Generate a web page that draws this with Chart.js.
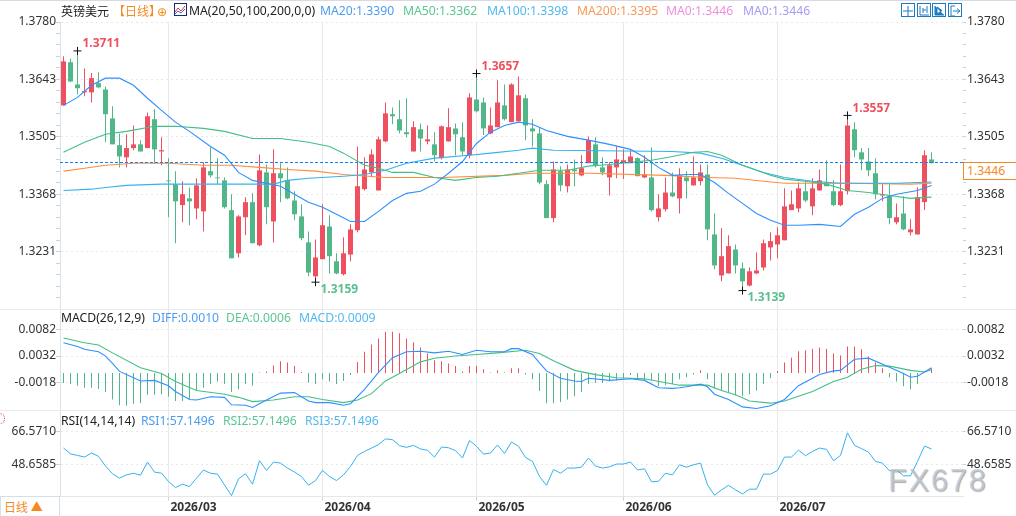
<!DOCTYPE html>
<html>
<head>
<meta charset="utf-8">
<title>英镑美元 日线</title>
<script src="https://cdn.jsdelivr.net/npm/chart.js@4.4.0/dist/chart.umd.js"></script>
<style>
    body { margin: 0; width: 1016px; height: 516px; overflow: hidden; background: #fff; font-family: "Noto Sans", sans-serif; font-size: 12.2px; position: relative; }
    #kline { position: absolute; left: 0; top: 0; }
    .t { position: absolute; white-space: nowrap; line-height: 16px; height: 16px; }
    .cjk { font-family: "Noto Sans CJK SC", sans-serif; font-size: 12px; }
    .sep { position: absolute; left: 0; width: 1016px; height: 1px; background: #e6ebef; }
    .btn { position: absolute; top: 3px; width: 12px; height: 12px; border: 1px solid #1b7cc2; }
    #lastBox { position: absolute; left: 963px; top: 162px; width: 53px; height: 16px; border: 1px solid #f68a1e; border-right: 0; box-sizing: content-box; background: #fff; color: #f68a1e; font-size: 12.2px; line-height: 16px; text-indent: 3px; }
    #period { position: absolute; left: 0; top: 496px; width: 58px; height: 19px; border: 1px solid #d5dfe8; color: #f68a1e; font-family: "Noto Sans CJK SC", sans-serif; font-size: 12px; line-height: 19px; text-indent: 3px; background: #fff; }
    #mark { position: absolute; left: 888px; top: 463px; font-family: "Liberation Sans", sans-serif; font-size: 31px; letter-spacing: 1.6px; line-height: 36px; color: rgba(190, 203, 218, 0.75); text-shadow: 1px 1px 1px rgba(120, 105, 95, 0.55); }
</style>
</head>
<body>
<canvas id="kline" width="1016" height="516"></canvas>

<div class="sep" style="top:0;background:#d8d9e2;"></div>
<div class="sep" style="top:309px;"></div>
<div class="sep" style="top:410px;"></div>

<div class="t cjk" style="left:61px;top:3px;color:#222;">英镑美元</div>
<div class="t cjk" style="left:113px;top:3px;color:#f68a1e;">【日线】</div>
<div class="t" style="left:157px;top:4px;color:#f68a1e;font-family:'DejaVu Sans';font-size:12px;">⊕</div>
<svg style="position:absolute;left:174px;top:3px;" width="13" height="13" viewBox="0 0 13 13">
    <rect x="0.5" y="0.5" width="12" height="12" fill="#fff" stroke="#1a2a7a"/>
    <path d="M1 9 L4 5 L7 8 L11 3" fill="none" stroke="#e33"/>
    <path d="M1 11 L4 8 L7 10 L11 6" fill="none" stroke="#36c"/>
</svg>
<div class="t" style="left:189px;top:3px;color:#222;">MA(20,50,100,200,0,0)</div>
<div class="t" style="left:320px;top:3px;color:#4d9bf0;">MA20:1.3390</div>
<div class="t" style="left:403px;top:3px;color:#5cc596;">MA50:1.3362</div>
<div class="t" style="left:487px;top:3px;color:#52b8f0;">MA100:1.3398</div>
<div class="t" style="left:577px;top:3px;color:#f79a5a;">MA200:1.3395</div>
<div class="t" style="left:666px;top:3px;color:#ee90dc;">MA0:1.3446</div>
<div class="t" style="left:743px;top:3px;color:#a59cf5;">MA0:1.3446</div>

<div class="btn" style="left:901px;"><svg width="12" height="12"><path d="M6 1V4M6 8V11M1 6H4M8 6H11M5 5H7V7H5Z" stroke="#1b7cc2" fill="none"/></svg></div>
<div class="btn" style="left:917px;"><svg width="12" height="12"><path d="M2 1V10H11M9 1V8M5 3V8M5 5L8 5" stroke="#1b7cc2" fill="none"/></svg></div>
<div class="btn" style="left:932px;"><svg width="12" height="12"><path d="M2 1V10H11M4 2L9 5.5L4 9Z" stroke="#1b7cc2" fill="#1b7cc2"/></svg></div>
<div class="btn" style="left:948px;"><svg width="12" height="12"><path d="M2 1V11M2 1H6M2 11H6M4 6H10M8 3.5L11 6L8 8.5" stroke="#1b7cc2" fill="none"/></svg></div>

<div class="t" style="left:61px;top:310px;color:#222;">MACD(26,12,9)</div>
<div class="t" style="left:152px;top:310px;color:#4d9bf0;">DIFF:0.0010</div>
<div class="t" style="left:226px;top:310px;color:#5cc596;">DEA:0.0006</div>
<div class="t" style="left:299px;top:310px;color:#52b8f0;">MACD:0.0009</div>

<div class="t" style="left:61px;top:413px;color:#222;">RSI(14,14,14)</div>
<div class="t" style="left:141px;top:413px;color:#4d9bf0;">RSI1:57.1496</div>
<div class="t" style="left:223px;top:413px;color:#5cc596;">RSI2:57.1496</div>
<div class="t" style="left:305px;top:413px;color:#52b8f0;">RSI3:57.1496</div>

<div style="position:absolute;left:-6px;top:413px;width:9px;height:9px;border:1px dotted #d33;border-radius:50%;"></div>

<div id="lastBox">1.3446</div>
<div id="period">日线 ▲</div>
<div id="mark">FX678</div>

<script>
// K线数据 (i = 0..124)
const opens = [1.3581,1.3684,1.3631,1.3612,1.3612,1.3634,1.3619,1.3550,1.3486,1.3457,
    1.3479,1.3488,1.3479,1.3548,1.3471,1.3402,1.3393,1.3343,1.3359,1.3335,
    1.3328,1.3424,1.3409,1.3402,1.3331,1.3228,1.3314,1.3350,1.3247,1.3421,
    1.3304,1.3419,1.3402,1.3354,1.3316,1.3254,1.3173,1.3214,1.3292,1.3209,
    1.3178,1.3225,1.3283,1.3381,1.3421,1.3378,1.3495,1.3560,1.3548,1.3517,
    1.3471,1.3524,1.3495,1.3488,1.3455,1.3495,1.3526,1.3505,1.3462,1.3595,
    1.3588,1.3514,1.3529,1.3581,1.3541,1.3543,1.3598,1.3526,1.3514,1.3393,
    1.3312,1.3424,1.3388,1.3428,1.3414,1.3443,1.3488,1.3433,1.3409,1.3433,
    1.3445,1.3443,1.3455,1.3409,1.3409,1.3314,1.3333,1.3373,1.3359,1.3409,
    1.3390,1.3400,1.3416,1.3273,1.3175,1.3180,1.3237,1.3192,1.3151,1.3180,
    1.3194,1.3242,1.3249,1.3259,1.3331,1.3335,1.3376,1.3340,1.3378,1.3397,
    1.3376,1.3343,1.3376,1.3524,1.3469,1.3447,1.3419,1.3366,1.3364,1.3302,
    1.3323,1.3278,1.3273,1.3350,1.3452];
const highs = [1.3698,1.3693,1.3711,1.3669,1.3658,1.3660,1.3626,1.3579,1.3514,1.3512,
    1.3533,1.3498,1.3564,1.3572,1.3505,1.3455,1.3424,1.3400,1.3385,1.3407,
    1.3445,1.3481,1.3455,1.3409,1.3369,1.3319,1.3362,1.3371,1.3464,1.3440,
    1.3476,1.3443,1.3433,1.3376,1.3345,1.3280,1.3261,1.3345,1.3319,1.3228,
    1.3266,1.3297,1.3483,1.3457,1.3476,1.3507,1.3588,1.3576,1.3593,1.3598,
    1.3543,1.3538,1.3533,1.3517,1.3533,1.3574,1.3538,1.3541,1.3610,1.3657,
    1.3600,1.3576,1.3641,1.3631,1.3634,1.3650,1.3607,1.3548,1.3529,1.3402,
    1.3447,1.3436,1.3440,1.3452,1.3462,1.3507,1.3505,1.3457,1.3445,1.3483,
    1.3476,1.3476,1.3457,1.3462,1.3481,1.3369,1.3409,1.3421,1.3431,1.3424,
    1.3459,1.3440,1.3440,1.3323,1.3288,1.3271,1.3249,1.3206,1.3194,1.3230,
    1.3261,1.3278,1.3290,1.3383,1.3378,1.3397,1.3400,1.3407,1.3428,1.3450,
    1.3402,1.3440,1.3557,1.3541,1.3479,1.3479,1.3455,1.3393,1.3393,1.3347,
    1.3364,1.3309,1.3385,1.3474,1.3469];
const lows = [1.3581,1.3636,1.3607,1.3603,1.3588,1.3622,1.3493,1.3488,1.3433,1.3433,
    1.3474,1.3471,1.3479,1.3443,1.3438,1.3314,1.3252,1.3302,1.3295,1.3309,
    1.3280,1.3409,1.3393,1.3335,1.3216,1.3218,1.3271,1.3252,1.3245,1.3297,
    1.3254,1.3350,1.3357,1.3307,1.3259,1.3173,1.3159,1.3214,1.3180,1.3178,
    1.3175,1.3209,1.3278,1.3378,1.3412,1.3378,1.3493,1.3536,1.3514,1.3505,
    1.3471,1.3471,1.3488,1.3447,1.3452,1.3495,1.3462,1.3462,1.3455,1.3564,
    1.3510,1.3512,1.3529,1.3545,1.3541,1.3543,1.3498,1.3483,1.3393,1.3312,
    1.3302,1.3376,1.3373,1.3388,1.3412,1.3443,1.3433,1.3414,1.3366,1.3407,
    1.3405,1.3443,1.3412,1.3407,1.3328,1.3304,1.3328,1.3362,1.3323,1.3359,
    1.3390,1.3390,1.3259,1.3190,1.3161,1.3180,1.3180,1.3139,1.3149,1.3178,
    1.3187,1.3211,1.3216,1.3259,1.3331,1.3326,1.3350,1.3319,1.3378,1.3388,
    1.3340,1.3340,1.3369,1.3457,1.3426,1.3412,1.3357,1.3352,1.3297,1.3297,
    1.3283,1.3271,1.3273,1.3331,1.3443];
const closes = [1.3686,1.3638,1.3622,1.3615,1.3646,1.3624,1.3560,1.3488,1.3459,1.3479,
    1.3488,1.3471,1.3555,1.3476,1.3474,1.3400,1.3352,1.3369,1.3352,1.3390,
    1.3433,1.3414,1.3407,1.3338,1.3216,1.3316,1.3350,1.3252,1.3426,1.3338,
    1.3419,1.3407,1.3359,1.3321,1.3264,1.3182,1.3218,1.3295,1.3221,1.3180,
    1.3228,1.3285,1.3388,1.3428,1.3464,1.3500,1.3562,1.3555,1.3521,1.3512,
    1.3529,1.3502,1.3500,1.3462,1.3531,1.3529,1.3512,1.3471,1.3600,1.3567,
    1.3526,1.3533,1.3588,1.3548,1.3631,1.3605,1.3533,1.3519,1.3397,1.3312,
    1.3428,1.3390,1.3428,1.3424,1.3431,1.3498,1.3438,1.3421,1.3438,1.3452,
    1.3450,1.3459,1.3412,1.3416,1.3331,1.3335,1.3373,1.3364,1.3414,1.3400,
    1.3409,1.3421,1.3285,1.3199,1.3221,1.3245,1.3199,1.3161,1.3185,1.3187,
    1.3252,1.3257,1.3271,1.3340,1.3345,1.3383,1.3354,1.3383,1.3402,1.3388,
    1.3343,1.3376,1.3533,1.3474,1.3452,1.3426,1.3369,1.3369,1.3312,1.3314,
    1.3285,1.3285,1.3362,1.3462,1.3443];

// 均线 (读取的采样点)
const ma20Idx = [0,2,4,6,8,10,12,14,16,18,21,23,25,27,29,31,33,35,37,39,41,43,45,47,49,51,53,55,57,59,61,63,65,67,69,72,75,78,81,83,85,87,89,91,93,95,97,99,101,103,105,108,111,113,115,117,119,122,124];
const ma20Val = [1.3581,1.3600,1.3629,1.3646,1.3646,1.3629,1.3598,1.3569,1.3541,1.3519,1.3483,1.3462,1.3421,1.3402,1.3395,1.3388,1.3369,1.3350,1.3338,1.3321,1.3304,1.3304,1.3328,1.3354,1.3371,1.3376,1.3393,1.3419,1.3447,1.3490,1.3517,1.3533,1.3541,1.3536,1.3521,1.3507,1.3498,1.3488,1.3476,1.3457,1.3433,1.3414,1.3416,1.3416,1.3397,1.3371,1.3347,1.3323,1.3307,1.3295,1.3295,1.3297,1.3292,1.3321,1.3338,1.3359,1.3369,1.3378,1.3390];
const ma50Idx = [0,3,6,9,13,16,20,23,27,31,35,38,40,43,45,47,50,53,56,59,62,65,68,72,75,78,81,84,87,90,92,94,97,99,101,103,106,109,112,115,118,121,124];
const ma50Val = [1.3469,1.3493,1.3512,1.3519,1.3531,1.3531,1.3526,1.3519,1.3502,1.3502,1.3493,1.3483,1.3467,1.3438,1.3431,1.3421,1.3421,1.3409,1.3402,1.3409,1.3412,1.3419,1.3426,1.3426,1.3436,1.3440,1.3445,1.3450,1.3459,1.3469,1.3471,1.3462,1.3438,1.3426,1.3414,1.3405,1.3400,1.3393,1.3378,1.3373,1.3366,1.3359,1.3362];
const ma100Idx = [0,4,6,9,14,24,30,32,35,40,43,46,49,53,58,61,65,67,70,87,91,94,97,100,103,107,111,119,124];
const ma100Val = [1.3378,1.3381,1.3385,1.3390,1.3393,1.3393,1.3393,1.3402,1.3407,1.3412,1.3416,1.3426,1.3443,1.3455,1.3462,1.3467,1.3474,1.3479,1.3474,1.3471,1.3467,1.3455,1.3438,1.3421,1.3409,1.3400,1.3395,1.3395,1.3398];
const ma200Idx = [0,3,6,10,15,20,24,28,32,36,40,46,54,63,67,75,86,92,96,100,103,112,121,124];
const ma200Val = [1.3424,1.3431,1.3438,1.3443,1.3443,1.3438,1.3438,1.3433,1.3428,1.3424,1.3416,1.3409,1.3409,1.3414,1.3419,1.3419,1.3414,1.3409,1.3407,1.3400,1.3395,1.3395,1.3393,1.3395];

// MACD
const macdBars = [-0.0019,-0.0021,-0.0024,-0.0028,-0.0028,-0.0030,-0.0036,-0.0050,-0.0061,-0.0062,
    -0.0058,-0.0057,-0.0041,-0.0041,-0.0040,-0.0045,-0.0053,-0.0053,-0.0050,-0.0034,
    -0.0028,-0.0021,-0.0016,-0.0021,-0.0036,-0.0031,-0.0021,-0.0024,0.0001,0.0003,
    0.0014,0.0022,0.0020,0.0013,0.0002,-0.0018,-0.0021,-0.0012,-0.0016,-0.0021,
    -0.0015,-0.0004,0.0021,0.0040,0.0054,0.0065,0.0078,0.0078,0.0075,0.0065,
    0.0058,0.0048,0.0037,0.0024,0.0022,0.0018,0.0013,0.0003,0.0013,0.0013,
    0.0007,0.0001,0.0005,0.0001,0.0009,0.0009,-0.0003,-0.0012,-0.0034,-0.0057,
    -0.0057,-0.0055,-0.0050,-0.0044,-0.0036,-0.0021,-0.0019,-0.0019,-0.0016,-0.0014,
    -0.0010,-0.0004,-0.0011,-0.0013,-0.0014,-0.0025,-0.0023,-0.0021,-0.0012,-0.0008,
    -0.0003,0.0005,-0.0012,-0.0029,-0.0033,-0.0036,-0.0042,-0.0044,-0.0040,-0.0033,
    -0.0021,-0.0010,0.0004,0.0020,0.0029,0.0041,0.0043,0.0046,0.0048,0.0046,
    0.0037,0.0033,0.0050,0.0050,0.0045,0.0031,0.0020,0.0009,-0.0008,-0.0016,
    -0.0025,-0.0031,-0.0021,0.0001,0.0009];
const diffIdx = [0,2,3,5,6,7,8,10,11,13,15,16,18,19,21,23,24,26,27,29,31,33,35,36,38,40,41,43,45,47,49,51,53,55,57,59,61,63,64,65,67,68,69,71,73,74,75,78,81,83,85,87,88,89,91,92,93,95,97,99,101,103,105,108,110,111,113,115,118,120,121,122,124];
const diffVal = [0.0057,0.0050,0.0045,0.0040,0.0032,0.0018,0.0003,-0.0009,-0.0015,-0.0014,-0.0024,-0.0035,-0.0050,-0.0051,-0.0045,-0.0046,-0.0060,-0.0061,-0.0065,-0.0051,-0.0038,-0.0037,-0.0053,-0.0056,-0.0056,-0.0061,-0.0058,-0.0031,0.0001,0.0029,0.0040,0.0041,0.0038,0.0041,0.0035,0.0043,0.0040,0.0040,0.0046,0.0046,0.0035,0.0019,0.0004,-0.0010,-0.0015,-0.0016,-0.0010,-0.0014,-0.0011,-0.0014,-0.0028,-0.0029,-0.0028,-0.0026,-0.0021,-0.0026,-0.0040,-0.0050,-0.0064,-0.0067,-0.0062,-0.0050,-0.0024,-0.0003,0.0004,0.0005,0.0026,0.0028,0.0011,-0.0001,-0.0008,-0.0006,0.0010];
const deaIdx = [0,3,5,7,11,14,16,19,23,25,27,30,33,35,37,40,42,44,46,48,51,53,56,59,62,66,68,70,73,76,79,83,88,92,94,96,98,101,103,107,110,112,114,116,118,121,123,124];
const deaVal = [0.0066,0.0057,0.0053,0.0038,0.0010,-0.0001,-0.0016,-0.0033,-0.0040,-0.0046,-0.0054,-0.0051,-0.0045,-0.0045,-0.0050,-0.0056,-0.0051,-0.0039,-0.0015,-0.0001,0.0021,0.0028,0.0032,0.0035,0.0038,0.0043,0.0037,0.0023,0.0005,-0.0003,-0.0009,-0.0011,-0.0023,-0.0023,-0.0033,-0.0041,-0.0053,-0.0057,-0.0053,-0.0035,-0.0016,-0.0008,0.0007,0.0014,0.0013,0.0005,0.0002,0.0006];

// RSI
const rsiVal = [57.4,54.3,53.4,52.5,54.7,52.9,47.6,43.4,41.0,42.8,
    43.7,42.6,49.8,44.3,43.7,39.2,35.9,37.7,36.4,41.0,
    45.4,43.7,43.2,37.3,31.5,40.6,43.4,37.7,50.5,45.2,
    49.8,49.2,46.5,44.3,41.9,37.1,39.7,45.2,41.9,39.7,
    42.8,47.4,53.4,55.6,57.4,59.3,62.4,62.0,58.7,57.8,
    58.9,56.9,56.2,52.5,58.0,57.6,56.0,52.0,61.5,58.4,
    54.1,54.7,59.1,54.5,60.7,58.4,52.3,50.1,41.9,37.1,
    45.7,43.7,46.5,46.5,47.0,52.0,47.6,46.5,47.2,48.7,
    48.7,49.8,45.5,46.1,39.0,39.3,43.7,42.8,48.3,47.0,
    48.3,49.2,37.3,31.7,34.6,37.1,34.6,32.4,35.0,35.0,
    43.2,43.2,45.2,52.5,52.5,56.3,53.2,55.6,57.4,56.7,
    50.5,53.4,65.7,58.9,57.1,55.2,50.1,49.2,45.0,45.5,
    42.3,42.3,50.1,58.5,56.9];

// 刻度
const priceTicks = [1.3780, 1.3643, 1.3505, 1.3368, 1.3231];
const macdTicks = [0.0082, 0.0032, -0.0018];
const rsiTicks = [66.5710, 48.6585];
const monthIdx = [15, 37, 59, 80, 102];
const monthLabels = ['2026/03', '2026/04', '2026/05', '2026/06', '2026/07'];
const lastPrice = 1.3446;
const peakIdx = [2, 59, 112];
const peakVal = [1.3711, 1.3657, 1.3557];
const troughIdx = [36, 97];
const troughVal = [1.3159, 1.3139];

const RED = '#ee5060';
const GREEN = '#52b788';
const SLOTS = 129;  // 右侧留白

const labels = Array.from({ length: SLOTS }, (_, i) => i);
const sparse = (idx, vals) => {
    const out = new Array(SLOTS).fill(null);
    idx.forEach((k, n) => { out[k] = vals[n]; });
    return out;
};
const candleColors = closes.map((c, i) => c >= opens[i] ? RED : GREEN);

const line = (data, color, yAxisID, width) => ({
    type: 'line', data, yAxisID, borderColor: color, borderWidth: width || 1.1,
    pointRadius: 0, spanGaps: true, tension: 0, order: 1
});
const marks = (idx, vals) => ({
    type: 'line', data: sparse(idx, vals), yAxisID: 'yPrice', showLine: false,
    pointStyle: 'cross', pointRadius: 4, borderColor: '#111', borderWidth: 1, order: 0
});
const bars = (data, colors, yAxisID, barThickness, order) => ({
    type: 'bar', data, yAxisID, backgroundColor: colors, barThickness,
    grouped: false, inflateAmount: 0, order
});

// 价格刻度下的短刻度线
const withMinor = (major, parts, min) => {
    const step = (major[0] - major[1]) / parts;
    const out = [];
    for (let v = major[0]; v > min; v -= step) out.push(+v.toFixed(5));
    return out;
};

const yAxis = (opts) => {
    const majorOf = v => opts.major.find(m => Math.abs(m - v) < opts.tol);
    return {
        position: opts.right ? 'right' : 'left',
        stack: opts.right ? 'r' : 'l',
        stackWeight: opts.h,
        weight: opts.w,
        min: opts.min,
        max: opts.max,
        afterBuildTicks: s => { s.ticks = opts.ticks.map(v => ({ value: v })); },
        afterFit: s => { s.width = opts.right ? 53 : 60; },
        border: { display: !opts.right, color: '#d9e2ea', dash: [2, 3] },
        grid: {
            drawOnChartArea: !opts.right,
            color: c => majorOf(c.tick.value) !== undefined ? '#e9e9e9' : 'transparent',
            tickColor: '#c9d3db',
            tickLength: opts.right ? 3 : 4,
            tickBorderDash: []
        },
        ticks: {
            autoSkip: false,
            padding: opts.right ? 1 : 0,
            color: '#333',
            font: { family: 'Noto Sans', size: 12 },
            callback: v => {
                const hit = majorOf(v);
                return hit === undefined ? '' : hit.toFixed(4);
            }
        }
    };
};

const priceMin = 1.3095, priceMax = 1.3780;
const priceAll = withMinor(priceTicks, 5, priceMin);
const macdMin = -0.00699, macdMax = 0.01209;
const rsiMin = 31.0, rsiMax = 78.16;

// 极值文字和现价虚线
const overlay = {
    id: 'overlay',
    afterDatasetsDraw(chart) {
        const { ctx, chartArea, scales } = chart;
        const yP = scales.yPrice, x = scales.x;
        ctx.save();
        const ly = Math.round(yP.getPixelForValue(lastPrice)) + 0.5;
        ctx.strokeStyle = '#0a84ff';
        ctx.lineWidth = 1;
        ctx.setLineDash([3, 2]);
        ctx.beginPath();
        ctx.moveTo(chartArea.left, ly);
        ctx.lineTo(chartArea.right, ly);
        ctx.stroke();
        ctx.setLineDash([]);
        ctx.font = 'bold 12px "Noto Sans"';
        ctx.textBaseline = 'middle';
        ctx.fillStyle = RED;
        peakIdx.forEach((k, n) => {
            ctx.fillText(peakVal[n].toFixed(4), x.getPixelForValue(k) + 5, yP.getPixelForValue(peakVal[n]) - 7);
        });
        ctx.fillStyle = '#5bbf8f';
        troughIdx.forEach((k, n) => {
            ctx.fillText(troughVal[n].toFixed(4), x.getPixelForValue(k) + 5, yP.getPixelForValue(troughVal[n]) + 7);
        });
        ctx.restore();
    }
};

new Chart(document.getElementById('kline'), {
    data: {
        labels,
        datasets: [
            line(sparse(ma20Idx, ma20Val), '#2e8fff', 'yPrice'),
            line(sparse(ma50Idx, ma50Val), '#43bf86', 'yPrice'),
            line(sparse(ma100Idx, ma100Val), '#35b1f0', 'yPrice'),
            line(sparse(ma200Idx, ma200Val), '#ff8c3a', 'yPrice'),
            marks(peakIdx, peakVal),
            marks(troughIdx, troughVal),
            bars(opens.map((o, i) => [o, closes[i]]), candleColors, 'yPrice', 5, 2),
            bars(lows.map((l, i) => [l, highs[i]]), candleColors, 'yPrice', 1, 3),
            bars(macdBars, macdBars.map(v => v >= 0 ? RED : GREEN), 'yMacd', 1, 3),
            line(sparse(diffIdx, diffVal), '#2e8fff', 'yMacd'),
            line(sparse(deaIdx, deaVal), '#43bf86', 'yMacd'),
            line(rsiVal, '#35b1f0', 'yRsi', 1)
        ]
    },
    options: {
        responsive: false,
        animation: false,
        events: [],
        layout: { padding: { top: 22, left: 0, right: 0, bottom: 0 } },
        plugins: { legend: { display: false }, tooltip: { enabled: false } },
        scales: {
            x: {
                type: 'category',
                offset: true,
                afterFit: s => { s.height = 19.5; },
                border: { color: '#e3e8ec' },
                grid: {
                    offset: false,
                    color: c => monthIdx.includes(c.index) ? '#e9e9e9' : 'transparent',
                    tickColor: c => monthIdx.includes(c.index) ? '#c9d3db' : 'transparent',
                    tickLength: 4,
                    tickBorderDash: []
                },
                ticks: {
                    autoSkip: false,
                    maxRotation: 0,
                    align: 'start',
                    labelOffset: 2,
                    padding: 0,
                    color: '#333',
                    font: { family: 'Noto Sans', size: 12, weight: 'bold' },
                    callback: (v, i) => {
                        const n = monthIdx.indexOf(i);
                        return n < 0 ? '' : monthLabels[n];
                    }
                }
            },
            yPrice: yAxis({ w: 3, h: 287, min: priceMin, max: priceMax, ticks: priceAll, major: priceTicks, tol: 0.0006 }),
            yMacd: yAxis({ w: 2, h: 101, min: macdMin, max: macdMax, ticks: macdTicks, major: macdTicks, tol: 0.00006 }),
            yRsi: yAxis({ w: 1, h: 86.5, min: rsiMin, max: rsiMax, ticks: rsiTicks, major: rsiTicks, tol: 0.06 }),
            yPriceR: yAxis({ right: true, w: 1, h: 287, min: priceMin, max: priceMax, ticks: priceAll, major: priceTicks, tol: 0.0006 }),
            yMacdR: yAxis({ right: true, w: 2, h: 101, min: macdMin, max: macdMax, ticks: macdTicks, major: macdTicks, tol: 0.00006 }),
            yRsiR: yAxis({ right: true, w: 3, h: 86.5, min: rsiMin, max: rsiMax, ticks: rsiTicks, major: rsiTicks, tol: 0.06 })
        }
    },
    plugins: [overlay]
});
</script>
</body>
</html>
